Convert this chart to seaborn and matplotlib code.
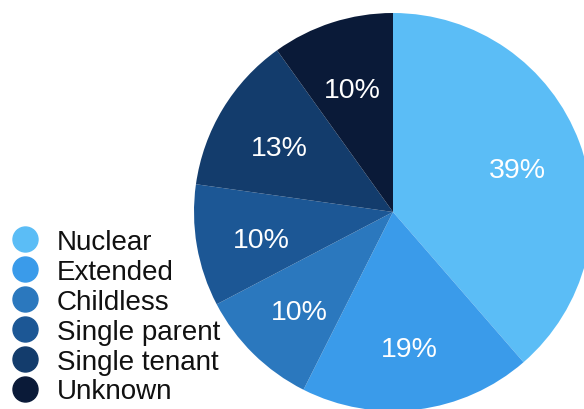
import matplotlib
matplotlib.use("Agg")
import matplotlib.pyplot as plt
from matplotlib.lines import Line2D
from matplotlib.transforms import offset_copy
import seaborn as sns

# Household composition shares (percent)
categories = ["Nuclear", "Extended", "Childless", "Single parent", "Single tenant", "Unknown"]
shares = [39, 19, 10, 10, 13, 10]
colors = ["#5BBDF6", "#3A9BEA", "#2B78BE", "#1C5795", "#133C6C", "#0A1A38"]

sns.set_theme(style="white")
plt.rcParams["font.family"] = ["Liberation Sans", "DejaVu Sans"]

W, H = 584, 410
fig = plt.figure(figsize=(W / 100, H / 100), dpi=100)

# Pie axes: centre at (393, 213) px, radius ~199 px
cx, cy, r = 393, 213, 199
ax = fig.add_axes([(cx - r) / W, (H - cy - r) / H, 2 * r / W, 2 * r / H])
wedges, texts, autotexts = ax.pie(
    shares,
    colors=sns.color_palette(colors),
    startangle=90,
    counterclock=False,
    radius=1,
    autopct="%.0f%%",
    pctdistance=0.67,
    wedgeprops=dict(linewidth=0),
    textprops=dict(color="white", fontsize=20.5),
)
# nudge the percentage labels slightly downward
for t in autotexts:
    t.set_transform(offset_copy(t.get_transform(), fig=fig, y=-5, units="dots"))
ax.set_xlim(-1, 1)
ax.set_ylim(-1, 1)
ax.set_aspect("equal")
ax.axis("off")

handles = [
    Line2D([0], [0], marker="o", linestyle="", markersize=18,
           markerfacecolor=c, markeredgecolor=c)
    for c in colors
]
fig.legend(
    handles, categories,
    loc="upper left",
    bbox_to_anchor=(11 / W, (H - 230) / H),
    frameon=False,
    fontsize=20,
    handlelength=1.0,
    handletextpad=0.65,
    labelspacing=0.14,
    borderpad=0,
    borderaxespad=0,
    labelcolor="#111111",
)

fig.savefig("out.png", dpi=100)
